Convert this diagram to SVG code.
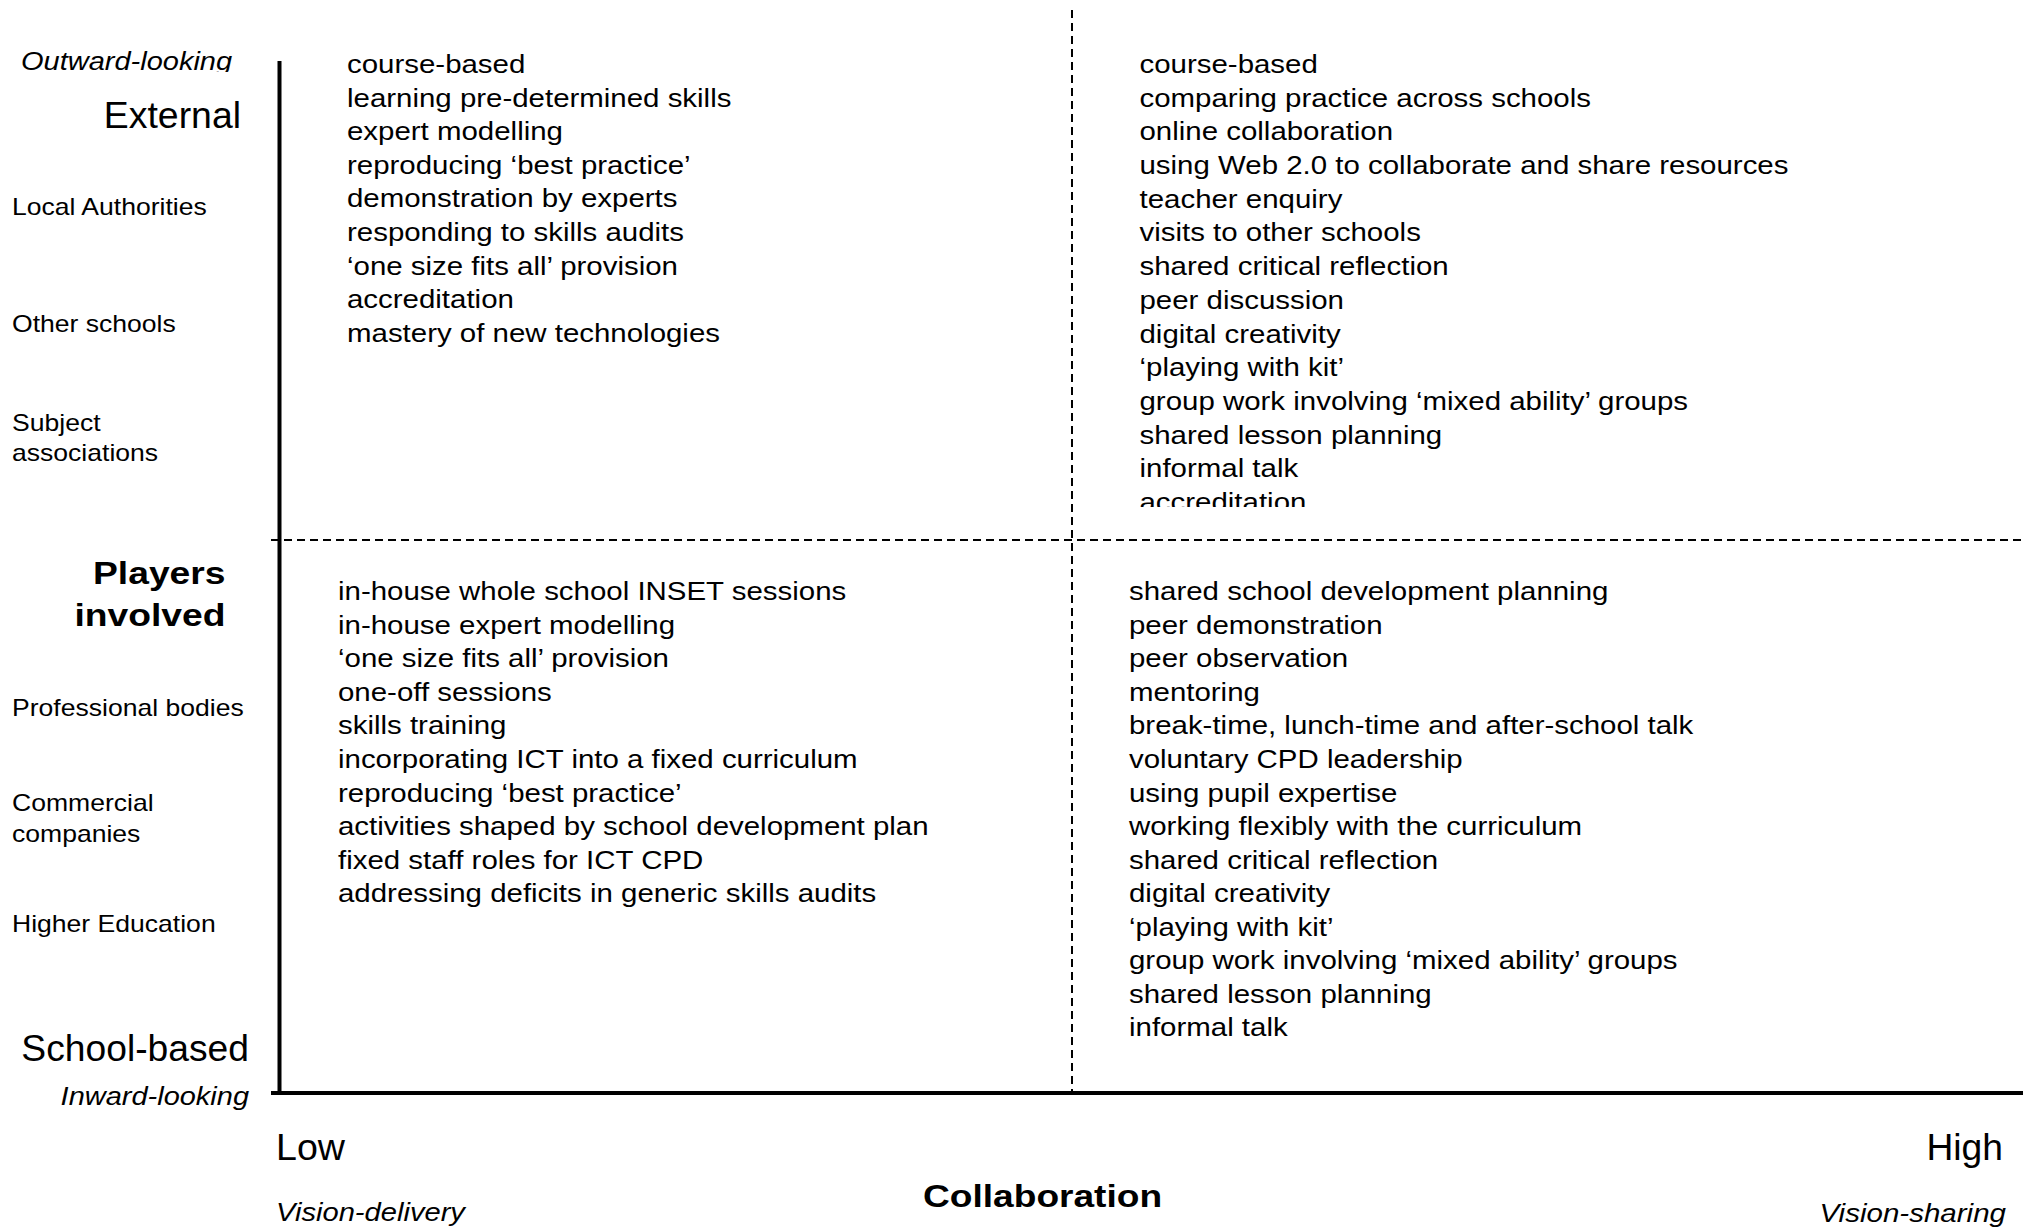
<svg xmlns="http://www.w3.org/2000/svg" width="2040" height="1230" viewBox="0 0 2040 1230">
<defs>
<style>
text{font-family:"Liberation Sans",Arial,Helvetica,sans-serif;fill:#000}
.item{font-size:25.6px}
.side{font-size:23px}
.big{font-size:36.5px}
.ital{font-style:italic}
.bold{font-weight:bold}
.axis{stroke:#000;stroke-width:4;fill:none}
.dash{stroke:#000;stroke-width:2;stroke-dasharray:8 5;fill:none}
</style>
<clipPath id="clipOut"><rect x="0" y="0" width="270" height="72"/></clipPath>
<clipPath id="clipTR"><rect x="1100" y="0" width="940" height="507"/></clipPath>
</defs>
<rect x="0" y="0" width="2040" height="1230" fill="#fff"/>

<g id="connectors">
<line class="dash" x1="1072" y1="10" x2="1072" y2="1093"/>
<line class="dash" x1="271" y1="540" x2="2024" y2="540"/>
<line class="axis" x1="279.5" y1="61" x2="279.5" y2="1095"/>
<line class="axis" x1="271" y1="1093" x2="2023" y2="1093"/>
</g>

<g id="y-axis-labels">
<g clip-path="url(#clipOut)"><text class="ital" font-size="25" transform="translate(21,70) scale(1.16,1)">Outward-looking</text></g>
<text class="big" text-anchor="end" transform="translate(241,127.7) scale(1.025,1)">External</text>
<text class="side" transform="translate(12,215) scale(1.155,1)">Local Authorities</text>
<text class="side" transform="translate(12,331.5) scale(1.155,1)">Other schools</text>
<text class="side" transform="translate(12,431) scale(1.155,1)">Subject</text>
<text class="side" transform="translate(12,461) scale(1.155,1)">associations</text>
<text class="bold" font-size="31.3" text-anchor="end" transform="translate(225.5,584) scale(1.19,1)">Players</text>
<text class="bold" font-size="31.3" text-anchor="end" transform="translate(225.5,625.5) scale(1.19,1)">involved</text>
<text class="side" transform="translate(12,716) scale(1.155,1)">Professional bodies</text>
<text class="side" transform="translate(12,811) scale(1.155,1)">Commercial</text>
<text class="side" transform="translate(12,841.5) scale(1.155,1)">companies</text>
<text class="side" transform="translate(12,931.5) scale(1.155,1)">Higher Education</text>
<text class="big" text-anchor="end" font-size="37.1" transform="translate(249,1061) scale(1.02,1)">School-based</text>
<text class="ital" font-size="26" text-anchor="end" transform="translate(249,1104.5) scale(1.115,1)">Inward-looking</text>
</g>

<g id="x-axis-labels">
<text class="big" transform="translate(276,1160) scale(1.03,1)">Low</text>
<text class="big" text-anchor="end" transform="translate(2003,1160) scale(1.02,1)">High</text>
<text class="ital" font-size="26.5" transform="translate(276,1221.2) scale(1.1,1)">Vision-delivery</text>
<text class="ital" font-size="26.5" text-anchor="end" transform="translate(2006,1221.5) scale(1.115,1)">Vision-sharing</text>
<text class="bold" font-size="32" transform="translate(923,1206.5) scale(1.16,1)">Collaboration</text>
</g>

<g id="quadrant-external-low">
<g transform="translate(347,73) scale(1.15,1)">
<text class="item" y="0">course-based</text>
<text class="item" y="33.6">learning pre-determined skills</text>
<text class="item" y="67.2">expert modelling</text>
<text class="item" y="100.8">reproducing ‘best practice’</text>
<text class="item" y="134.4">demonstration by experts</text>
<text class="item" y="168">responding to skills audits</text>
<text class="item" y="201.6">‘one size fits all’ provision</text>
<text class="item" y="235.2">accreditation</text>
<text class="item" y="268.8">mastery of new technologies</text>
</g>
</g>

<g id="quadrant-external-high">
<g clip-path="url(#clipTR)">
<g transform="translate(1139.5,73) scale(1.15,1)">
<text class="item" y="0">course-based</text>
<text class="item" y="33.7">comparing practice across schools</text>
<text class="item" y="67.4">online collaboration</text>
<text class="item" y="101.1">using Web 2.0 to collaborate and share resources</text>
<text class="item" y="134.8">teacher enquiry</text>
<text class="item" y="168.5">visits to other schools</text>
<text class="item" y="202.2">shared critical reflection</text>
<text class="item" y="235.9">peer discussion</text>
<text class="item" y="269.6">digital creativity</text>
<text class="item" y="303.3">‘playing with kit’</text>
<text class="item" y="337">group work involving ‘mixed ability’ groups</text>
<text class="item" y="370.7">shared lesson planning</text>
<text class="item" y="404.4">informal talk</text>
<text class="item" y="438.1">accreditation</text>
</g>
</g>
</g>

<g id="quadrant-school-low">
<g transform="translate(338,600.3) scale(1.15,1)">
<text class="item" y="0">in-house whole school INSET sessions</text>
<text class="item" y="33.55">in-house expert modelling</text>
<text class="item" y="67.1">‘one size fits all’ provision</text>
<text class="item" y="100.65">one-off sessions</text>
<text class="item" y="134.2">skills training</text>
<text class="item" y="167.75">incorporating ICT into a fixed curriculum</text>
<text class="item" y="201.3">reproducing ‘best practice’</text>
<text class="item" y="234.85">activities shaped by school development plan</text>
<text class="item" y="268.4">fixed staff roles for ICT CPD</text>
<text class="item" y="301.95">addressing deficits in generic skills audits</text>
</g>
</g>

<g id="quadrant-school-high">
<g transform="translate(1129,600.3) scale(1.15,1)">
<text class="item" y="0">shared school development planning</text>
<text class="item" y="33.55">peer demonstration</text>
<text class="item" y="67.1">peer observation</text>
<text class="item" y="100.65">mentoring</text>
<text class="item" y="134.2">break-time, lunch-time and after-school talk</text>
<text class="item" y="167.75">voluntary CPD leadership</text>
<text class="item" y="201.3">using pupil expertise</text>
<text class="item" y="234.85">working flexibly with the curriculum</text>
<text class="item" y="268.4">shared critical reflection</text>
<text class="item" y="301.95">digital creativity</text>
<text class="item" y="335.5">‘playing with kit’</text>
<text class="item" y="369.05">group work involving ‘mixed ability’ groups</text>
<text class="item" y="402.6">shared lesson planning</text>
<text class="item" y="436.15">informal talk</text>
</g>
</g>
</svg>
